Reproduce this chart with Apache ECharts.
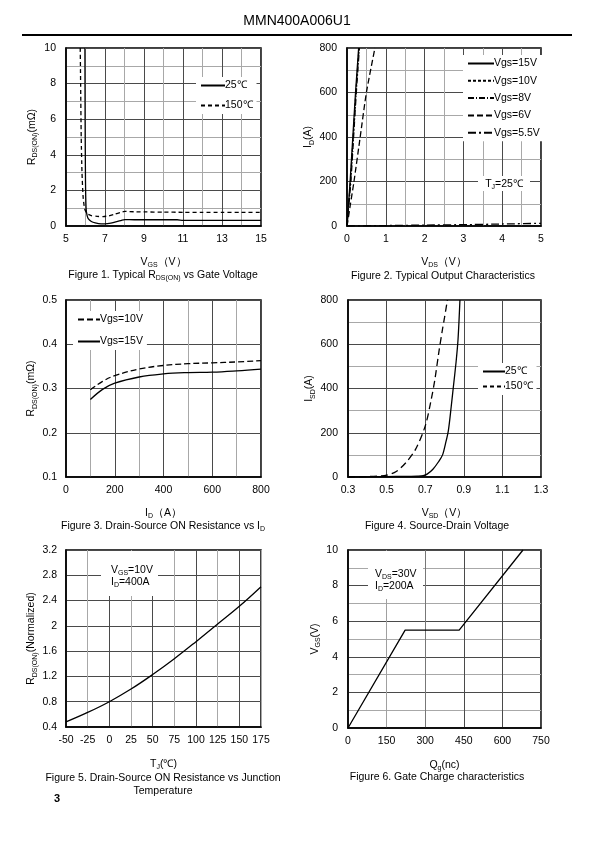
<!DOCTYPE html>
<html><head><meta charset="utf-8">
<script src="https://cdn.jsdelivr.net/npm/echarts@6/dist/echarts.min.js"></script>
<style>html,body{margin:0;padding:0;background:#fff}#c{width:595px;height:842px}</style>
</head><body><div id="c"></div>
<script>
// ---------- Figure 1 : RDS(on) vs VGS ----------
const f1_vgs_25 = [5.97,5.98,6.0,6.03,6.08,6.15,6.3,6.5,6.8,7.0,7.3,7.6,7.85,8.0,8.5,9,10,10.7,11,12,13,14,15];
const f1_rds_25 = [10,6,2.5,1.0,0.6,0.4,0.25,0.17,0.12,0.12,0.16,0.24,0.32,0.36,0.35,0.35,0.35,0.35,0.32,0.32,0.32,0.32,0.32];
const f1_vgs_150 = [5.73,5.75,5.78,5.82,5.88,5.95,6.02,6.1,6.3,6.6,6.9,7.2,7.5,7.8,8.0,8.5,9,10,11,12,13,14,15];
const f1_rds_150 = [10,8,5,3,1.6,1.0,0.8,0.68,0.58,0.54,0.53,0.57,0.66,0.76,0.82,0.8,0.79,0.78,0.77,0.77,0.77,0.76,0.76];
// ---------- Figure 2 : output characteristics ----------
const f2_vds_15 = [0,0.04,0.08,0.15,0.22,0.3];
const f2_id_15  = [0,100,200,400,600,800];
const f2_vds_10 = [0,0.045,0.09,0.16,0.23,0.31];
const f2_id_10  = [0,100,200,400,600,800];
const f2_vds_8  = [0,0.05,0.1,0.17,0.24,0.32];
const f2_id_8   = [0,100,200,400,600,800];
const f2_vds_6  = [0,0.02,0.09,0.18,0.34,0.5,0.72];
const f2_id_6   = [0,20,100,200,400,600,800];
const f2_vds_55 = [0,1,2,3,4,5];
const f2_id_55  = [0,2,4,6,9,12];
// ---------- Figure 3 : RDS(on) vs ID ----------
const f3_id = [100,150,200,300,400,500,600,700,800];
const f3_r10 = [0.297,0.316,0.329,0.344,0.352,0.356,0.358,0.360,0.363];
const f3_r15 = [0.275,0.298,0.312,0.326,0.333,0.336,0.337,0.340,0.344];
// ---------- Figure 4 : source-drain diode ----------
const f4_vsd_25 = [0.3,0.4,0.5,0.6,0.66,0.69,0.71,0.74,0.77,0.79,0.805,0.82,0.835,0.845,0.86,0.87,0.88];
const f4_isd_25 = [0,1,2,3,4,6,13,35,70,100,150,210,320,400,520,620,800];
const f4_vsd_150 = [0.3,0.4,0.45,0.5,0.55,0.6,0.65,0.7,0.73,0.75,0.77,0.79,0.8,0.815];
const f4_isd_150 = [0,2,4,8,25,65,125,230,345,440,560,670,720,800];
// ---------- Figure 5 : normalized RDS(on) vs Tj ----------
const f5_tj = [-50,-25,0,25,50,75,100,125,150,175];
const f5_r  = [0.48,0.63,0.80,1.00,1.23,1.48,1.75,2.03,2.31,2.62];
// ---------- Figure 6 : gate charge ----------
const f6_qg  = [0,222,432,680];
const f6_vgs = [0,5.5,5.5,10];

const FONT = '"Liberation Sans", Arial, sans-serif';
const zip = (a,b) => a.map((v,i)=>[v,b[i]]);
const rich = {
  n:{fontSize:10.5,fontFamily:FONT,color:'#000',lineHeight:14},
  s:{fontSize:7,fontFamily:FONT,color:'#000',lineHeight:8,verticalAlign:'bottom'}
};
const MAJ = '#4a4a4a', MIN = '#a8a8a8';

function xAx(i,min,max,interval,name,gap,opts){
  return Object.assign({
    type:'value', gridIndex:i, min, max, interval,
    name, nameLocation:'middle', nameGap:gap,
    nameTextStyle:{rich, fontFamily:FONT, fontSize:10.5, color:'#000'},
    axisLine:{show:true,onZero:false,lineStyle:{color:'#000',width:1.5}},
    axisTick:{show:false},
    axisLabel:{color:'#000',fontSize:10.5,fontFamily:FONT,margin:8,showMinLabel:true,showMaxLabel:true},
    splitLine:{show:true,lineStyle:{color:MAJ,width:1}},
  }, opts||{});
}
function yAx(i,min,max,interval,name,gap,opts){
  return Object.assign({
    type:'value', gridIndex:i, min, max, interval,
    name, nameLocation:'middle', nameGap:gap, nameRotate:90,
    nameTextStyle:{rich, fontFamily:FONT, fontSize:10.5, color:'#000'},
    axisLine:{show:true,onZero:false,lineStyle:{color:'#000',width:1.5}},
    axisTick:{show:false},
    axisLabel:{color:'#000',fontSize:10.5,fontFamily:FONT,margin:10,showMinLabel:true,showMaxLabel:true},
    splitLine:{show:true,lineStyle:{color:MAJ,width:1}},
  }, opts||{});
}
const minor = {minorTick:{show:false,splitNumber:2},minorSplitLine:{show:true,lineStyle:{color:MIN,width:1}}};

function ser(name,i,data,type,smooth){
  return {name,type:'line',xAxisIndex:i,yAxisIndex:i,data,symbol:'none',smooth:smooth||false,
    lineStyle:{color:'#000',width:1.3,type:type||'solid'},itemStyle:{color:'#000'},silent:true,animation:false,clip:true};
}
function legend(left,top,names,w,gap){
  return {left,top,orient:'vertical',data:names,itemWidth:w,itemHeight:10,itemGap:gap,
    backgroundColor:'#fff',padding:[3,4],selectedMode:false,
    itemStyle:{opacity:0,borderWidth:0},
    textStyle:{fontFamily:FONT,fontSize:10.5,color:'#000',padding:[0,0,0,-5]}};
}
function txt(x,y,text,size,align,extra){
  return Object.assign({type:'text',z:100,style:{x,y,text,fill:'#000',font:(size||10.5)+'px '+FONT,
    textAlign:align||'center',textVerticalAlign:'middle',rich:{
      n:{fontSize:size||10.5,fontFamily:FONT,fill:'#000',lineHeight:13},
      s:{fontSize:7,fontFamily:FONT,fill:'#000',lineHeight:8,verticalAlign:'bottom'}}}},extra||{});
}

const option = {
  animation:false,
  backgroundColor:'#fff',
  grid:[
    {left:66,top:48,width:195,height:178},
    {left:347,top:48,width:194,height:178},
    {left:66,top:300,width:195,height:177},
    {left:348,top:300,width:193,height:177},
    {left:66,top:550,width:195,height:177},
    {left:348,top:550,width:193,height:178}
  ].map(g=>Object.assign(g,{show:true,borderColor:'#000',borderWidth:1.5,backgroundColor:'transparent'})),
  xAxis:[
    xAx(0,5,15,2,'{n|V}{s|GS}{n|（V）}',29,minor),
    xAx(1,0,5,1,'{n|V}{s|DS}{n|（V）}',29,minor),
    xAx(2,0,800,200,'{n|I}{s|D}{n|（A）}',29,minor),
    xAx(3,0.3,1.3,0.2,'{n|V}{s|SD}{n|（V）}',29,{axisLabel:{color:'#000',fontSize:10.5,fontFamily:FONT,margin:8,formatter:v=>v.toFixed(1)}}),
    xAx(4,-50,175,25,'{n|T}{s|J}{n|(℃)}',30,{splitLine:{show:true,lineStyle:{color:[MAJ,MIN],width:1}}}),
    xAx(5,0,750,150,'{n|Q}{s|g}{n|(nc)}',30,{splitLine:{show:true,lineStyle:{color:[MAJ,'#a0a0a0','#777',MAJ,MAJ],width:1}}})
  ],
  yAxis:[
    yAx(0,0,10,2,'{n|R}{s|DS(ON)}{n|(mΩ)}',27,minor),
    yAx(1,0,800,200,'{n|I}{s|D}{n|(A)}',24,minor),
    yAx(2,0.1,0.5,0.1,'{n|R}{s|DS(ON)}{n|(mΩ)}',26,{axisLabel:{color:'#000',fontSize:10.5,fontFamily:FONT,margin:9,formatter:v=>v.toFixed(1)}}),
    yAx(3,0,800,200,'{n|I}{s|SD}{n|(A)}',28,minor),
    yAx(4,0.4,3.2,0.4,'{n|R}{s|DS(ON)}{n|(Normalized)}',26,{axisLabel:{color:'#000',fontSize:10.5,fontFamily:FONT,margin:9,formatter:v=>String(+v.toFixed(1))}}),
    yAx(5,0,10,2,'{n|V}{s|GS}{n|(V)}',26,minor)
  ],
  legend:[
    legend(196,77,['25℃','150℃'],24,9),
    legend(463,55,['Vgs=15V','Vgs=10V','Vgs=8V','Vgs=6V','Vgs=5.5V'],26,6.3),
    legend(73,311,[{name:'Vgs=10V',lineStyle:{type:[6,3]}},{name:'Vgs=15V'}],22,11),
    legend(478,363,['25℃','150℃'],22,4)
  ],
  series:[
    ser('25℃',0,zip(f1_vgs_25,f1_rds_25),'solid',0.2),
    ser('150℃',0,zip(f1_vgs_150,f1_rds_150),[4,3],0.2),
    ser('Vgs=15V',1,zip(f2_vds_15,f2_id_15),'solid',0.2),
    ser('Vgs=10V',1,zip(f2_vds_10,f2_id_10),[3,2],0.2),
    ser('Vgs=8V',1,zip(f2_vds_8,f2_id_8),[6,2,1,2],0.2),
    ser('Vgs=6V',1,zip(f2_vds_6,f2_id_6),[6,3],0.2),
    ser('Vgs=5.5V',1,zip(f2_vds_55,f2_id_55),[8,3,2,3],0.2),
    ser('Vgs=10V',2,zip(f3_id,f3_r10),[6,3],0.4),
    ser('Vgs=15V',2,zip(f3_id,f3_r15),'solid',0.4),
    ser('25℃',3,zip(f4_vsd_25,f4_isd_25),'solid',0.3),
    ser('150℃',3,zip(f4_vsd_150,f4_isd_150),[7,4],0.3),
    ser('Rn',4,zip(f5_tj,f5_r),'solid',0.4),
    ser('Vg',5,zip(f6_qg,f6_vgs),'solid',false)
  ],
  graphic:[
    txt(297,21,'MMN400A006U1',14),
    {type:'line',z:100,shape:{x1:22,y1:35,x2:572,y2:35},style:{stroke:'#000',lineWidth:2}},
    txt(163,275,'{n|Figure 1. Typical R}{s|DS(ON)}{n| vs Gate Voltage}',10.5),
    txt(443,276,'Figure 2. Typical Output Characteristics',10.5),
    txt(163,526,'{n|Figure 3. Drain-Source ON Resistance vs I}{s|D}',10.5),
    txt(437,526,'Figure 4. Source-Drain Voltage',10.5),
    txt(163,778,'Figure 5. Drain-Source ON Resistance vs Junction',10.5),
    txt(163,791,'Temperature',10.5),
    txt(437,777,'Figure 6. Gate Charge characteristics',10.5),
    {type:'text',z:100,style:{x:57,y:799,text:'3',fill:'#000',font:'bold 11px '+FONT,textAlign:'center',textVerticalAlign:'middle'}},
    // annotation boxes
    {type:'rect',z:90,shape:{x:478,y:176,width:52,height:15},style:{fill:'#fff'}},
    txt(504,184,'{n|T}{s|J}{n|=25℃}',10.5),
    {type:'rect',z:90,shape:{x:101,y:551,width:57,height:45},style:{fill:'#fff'}},
    txt(111,570,'{n|V}{s|GS}{n|=10V}',10.5,'left'),
    txt(111,582,'{n|I}{s|D}{n|=400A}',10.5,'left'),
    {type:'rect',z:90,shape:{x:368,y:551,width:55,height:48},style:{fill:'#fff'}},
    txt(375,574,'{n|V}{s|DS}{n|=30V}',10.5,'left'),
    txt(375,586,'{n|I}{s|D}{n|=200A}',10.5,'left')
  ]
};
const chart = echarts.init(document.getElementById('c'),null,{renderer:'canvas'});
chart.setOption(option);
</script></body></html>
